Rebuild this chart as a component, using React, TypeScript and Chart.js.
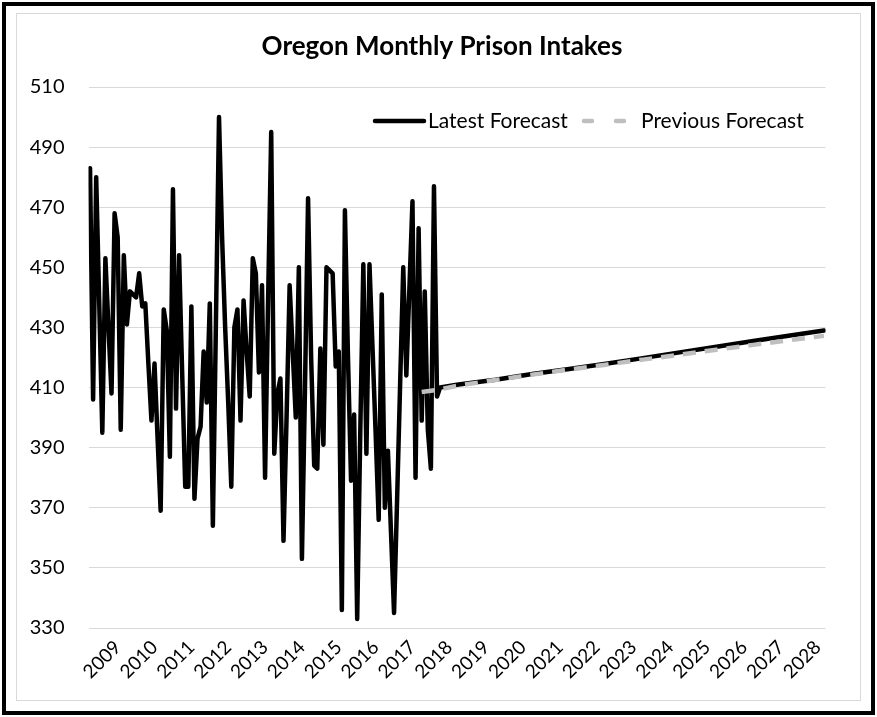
import React, { useEffect, useRef } from "react";
import { Chart, registerables } from "chart.js";

Chart.register(...registerables);

const TITLE = "Oregon Monthly Prison Intakes";
const years = ["2009","2010","2011","2012","2013","2014","2015","2016","2017","2018","2019","2020","2021","2022","2023","2024","2025","2026","2027","2028"];
const seriesNames = ["Latest Forecast", "Previous Forecast"];

// Monthly actual intakes, Jan 2009 onward (month index 0..113)
const actualValues = [
  483, 406, 480, 438, 395, 453, 430, 408, 468, 460, 396, 454,
  431, 442, 441, 440, 448, 437, 438, 418, 399, 418, 393, 369,
  436, 429, 387, 476, 403, 454, 415, 377, 377, 437, 373, 393,
  397, 422, 405, 438, 364, 432, 500, 460, 430, 405, 377, 430,
  436, 399, 439, 422, 407, 453, 448, 415, 444, 380, 440, 495,
  388, 408, 413, 359, 400, 444, 422, 400, 450, 353, 410, 473,
  420, 384, 383, 423, 391, 450, 449, 448, 417, 422, 336, 469,
  420, 379, 401, 333, 395, 451, 388, 451, 423, 395, 366, 441,
  370, 389, 362, 335, 373, 412, 450, 414, 443, 472, 380, 463,
  399, 442, 396, 383, 477, 407
];

// Latest forecast, read at selected months (month index from Jan 2009)
const latestMonths = [114, 120, 132, 144, 156, 168, 180, 192, 204, 216, 228, 239];
const latestValues = [410, 411, 412.6, 414.5, 416.2, 417.9, 419.8, 421.7, 423.6, 425.5, 427.3, 429];

// Previous forecast
const previousMonths = [108, 113, 120, 132, 144, 156, 168, 180, 192, 204, 216, 228, 239];
const previousValues = [408.5, 409.2, 410.7, 412.5, 414.3, 416, 417.6, 419.3, 420.9, 422.6, 424.2, 425.8, 427.2];

const Y_MIN = 330;
const Y_MAX = 510;
const Y_STEP = 20;

const FONT = "Lato, 'Open Sans', sans-serif";
const LABEL_OFFSET = 9;

export default function App() {
  const ref = useRef<HTMLCanvasElement | null>(null);

  useEffect(() => {
    const canvas = ref.current;
    if (!canvas) return;

    const latestData = actualValues
      .map((v, i) => ({ x: i, y: v }))
      .concat(latestMonths.map((m, i) => ({ x: m, y: latestValues[i] })));
    const previousData = previousMonths.map((m, i) => ({ x: m, y: previousValues[i] }));

    const overlay = {
      id: "overlay",
      afterDraw(chart: any) {
        const ctx = chart.ctx as CanvasRenderingContext2D;
        ctx.save();
        ctx.fillStyle = "#000";
        ctx.font = `bold 26px ${FONT}`;
        ctx.textAlign = "center";
        ctx.textBaseline = "middle";
        ctx.fillText(TITLE, 442, 47);

        const ly = 121;
        ctx.lineWidth = 4.5;
        ctx.lineCap = "round";
        ctx.strokeStyle = "#000";
        ctx.setLineDash([]);
        ctx.beginPath();
        ctx.moveTo(375, ly);
        ctx.lineTo(424, ly);
        ctx.stroke();

        ctx.strokeStyle = "#bfbfbf";
        ctx.setLineDash([8, 24]);
        ctx.beginPath();
        ctx.moveTo(584, ly);
        ctx.lineTo(630, ly);
        ctx.stroke();

        ctx.setLineDash([]);
        ctx.fillStyle = "#000";
        ctx.font = `21px ${FONT}`;
        ctx.textAlign = "left";
        ctx.fillText(seriesNames[0], 428, ly);
        ctx.fillText(seriesNames[1], 641, ly);
        ctx.restore();
      },
    };

    const chart = new Chart(canvas, {
      type: "line",
      data: {
        datasets: [
          {
            label: seriesNames[0],
            data: latestData,
            borderColor: "#000000",
            backgroundColor: "#000000",
            borderWidth: 4.5,
            pointRadius: 0,
            tension: 0,
            borderJoinStyle: "round",
            borderCapStyle: "round",
            order: 2,
          },
          {
            label: seriesNames[1],
            data: previousData,
            borderColor: "#bfbfbf",
            backgroundColor: "#bfbfbf",
            borderWidth: 4.5,
            borderDash: [13, 9],
            pointRadius: 0,
            tension: 0,
            borderCapStyle: "butt",
            order: 1,
          },
        ],
      },
      options: {
        responsive: false,
        animation: false,
        parsing: false,
        layout: { padding: { left: 20, right: 51.5, top: 87, bottom: 20 } },
        plugins: {
          legend: { display: false },
          title: { display: false },
          tooltip: { enabled: false },
        },
        scales: {
          x: {
            type: "linear",
            min: -0.5,
            max: 239.5,
            grid: { display: false },
            border: { display: false },
            afterBuildTicks: (scale: any) => {
              scale.ticks = years.map((_, i) => ({ value: i * 12 + LABEL_OFFSET }));
            },
            afterFit: (scale: any) => {
              scale.height = 69;
            },
            ticks: {
              autoSkip: false,
              minRotation: 45,
              maxRotation: 45,
              padding: 0,
              color: "#000",
              font: { family: FONT, size: 19 },
              callback: (_v: any, i: number) => years[i],
            },
          },
          y: {
            min: Y_MIN,
            max: Y_MAX,
            grid: { color: "#d9d9d9", lineWidth: 1, drawTicks: false },
            border: { display: false },
            afterFit: (scale: any) => {
              scale.width = 68.5;
            },
            ticks: {
              stepSize: Y_STEP,
              padding: 24,
              color: "#000",
              font: { family: FONT, size: 20 },
            },
          },
        },
      },
      plugins: [overlay],
    } as any);

    return () => chart.destroy();
  }, []);

  return (
    <div style={{ position: "absolute", left: 0, top: 0, width: 877, height: 717, background: "#fff" }}>
      <div
        style={{
          position: "absolute",
          left: 2,
          top: 2,
          width: 873,
          height: 713,
          boxSizing: "border-box",
          border: "4px solid #000",
        }}
      />
      <div
        style={{
          position: "absolute",
          left: 16,
          top: 13,
          width: 845,
          height: 688,
          boxSizing: "border-box",
          border: "1px solid #d9d9d9",
        }}
      />
      <canvas ref={ref} width={877} height={717} style={{ position: "absolute", left: 0, top: 0 }} />
    </div>
  );
}
